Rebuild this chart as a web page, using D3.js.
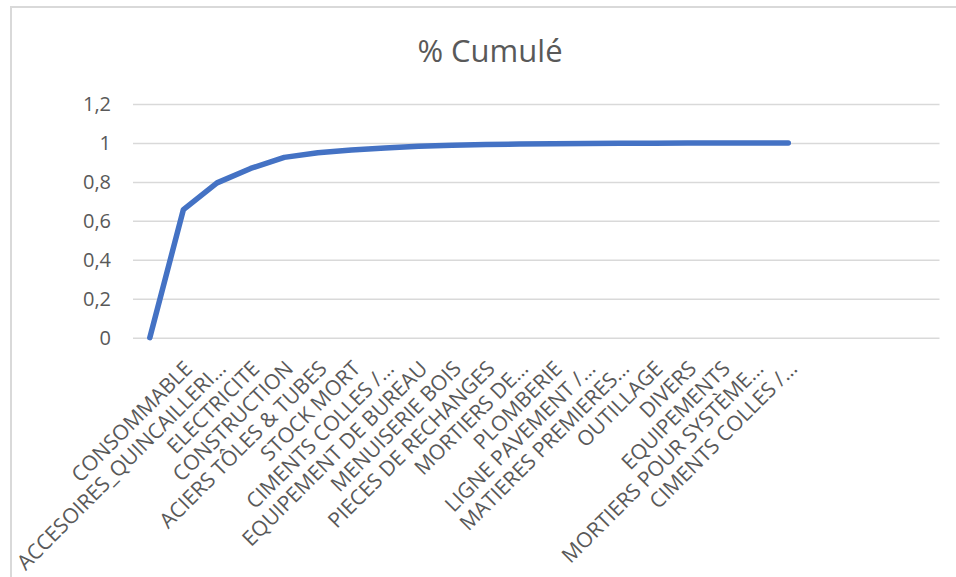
<!DOCTYPE html>
<html>
<head>
<meta charset="utf-8">
<script src="https://cdn.jsdelivr.net/npm/d3@7"></script>
<style>
  html, body { margin: 0; padding: 0; background: #fff; }
  svg { display: block; }
  text { font-family: "Open Sans", "Noto Sans", sans-serif; fill: #595959; }
</style>
</head>
<body>
<svg id="chart" width="956" height="577"></svg>
<script>
// Category axis (the first slot is the unlabelled origin point, trailing slots are empty)
const categories = [
  "",
  "CONSOMMABLE",
  "ACCESOIRES_QUINCAILLERI…",
  "ELECTRICITE",
  "CONSTRUCTION",
  "ACIERS TÔLES & TUBES",
  "STOCK MORT",
  "CIMENTS COLLES /…",
  "EQUIPEMENT DE BUREAU",
  "MENUISERIE BOIS",
  "PIECES DE RECHANGES",
  "MORTIERS DE…",
  "PLOMBERIE",
  "LIGNE PAVEMENT /…",
  "MATIERES PREMIERES…",
  "OUTILLAGE",
  "DIVERS",
  "EQUIPEMENTS",
  "MORTIERS POUR SYSTÈME…",
  "CIMENTS COLLES /…",
  "", "", "", ""
];

// Cumulative share per category
const cumulative = [
  0, 0.658, 0.795, 0.869, 0.926, 0.950, 0.964, 0.974, 0.983, 0.988,
  0.992, 0.994, 0.996, 0.997, 0.998, 0.999, 0.9995, 0.9998, 0.9999, 1.0
];

const yTicks = [0, 0.2, 0.4, 0.6, 0.8, 1, 1.2];
const title = "% Cumulé";

const svg = d3.select("#chart");
const W = 956, H = 577;

// Chart frame
svg.append("path")
  .attr("d", `M11,${H + 2} L11,7 L${W + 2},7`)
  .attr("fill", "none")
  .attr("stroke", "#d9d9d9")
  .attr("stroke-width", 2);

const plot = { left: 133, right: 939.5, top: 104, bottom: 337.7 };

const x = d3.scaleBand()
  .domain(d3.range(categories.length))
  .range([plot.left, plot.right]);

const y = d3.scaleLinear()
  .domain([0, 1.2])
  .range([plot.bottom, plot.top]);

const fmt = v => String(v).replace(".", ",");

// Horizontal gridlines + value labels
const yAxis = d3.axisLeft(y)
  .tickValues(yTicks)
  .tickSize(-(plot.right - plot.left))
  .tickPadding(22)
  .tickFormat(fmt);

const gy = svg.append("g")
  .attr("transform", `translate(${plot.left},0)`)
  .call(yAxis);
gy.select(".domain").remove();
gy.selectAll(".tick line")
  .attr("stroke", "#d9d9d9")
  .attr("stroke-width", 1.5);
gy.selectAll(".tick text")
  .style("font-size", "20px")
  .attr("fill", "#595959");

// Category labels, rotated
const xAxis = d3.axisBottom(x)
  .tickSize(0)
  .tickFormat(i => categories[i]);

const gx = svg.append("g")
  .attr("transform", `translate(0,${plot.bottom})`)
  .call(xAxis);
gx.select(".domain").remove();
gx.selectAll(".tick text")
  .style("font-size", "21px")
  .attr("fill", "#595959")
  .attr("text-anchor", "end")
  .attr("dy", "0.35em")
  .attr("y", 0)
  .attr("transform", "translate(5,27) rotate(-45)");

// Cumulative line
const line = d3.line()
  .x((d, i) => x(i) + x.bandwidth() / 2)
  .y(d => y(d));

svg.append("path")
  .datum(cumulative)
  .attr("d", line)
  .attr("fill", "none")
  .attr("stroke", "#4472c4")
  .attr("stroke-width", 5.5)
  .attr("stroke-linecap", "round")
  .attr("stroke-linejoin", "round");

// Title
svg.append("text")
  .attr("x", 490)
  .attr("y", 62)
  .attr("text-anchor", "middle")
  .style("font-size", "31px")
  .text(title);
</script>
</body>
</html>
